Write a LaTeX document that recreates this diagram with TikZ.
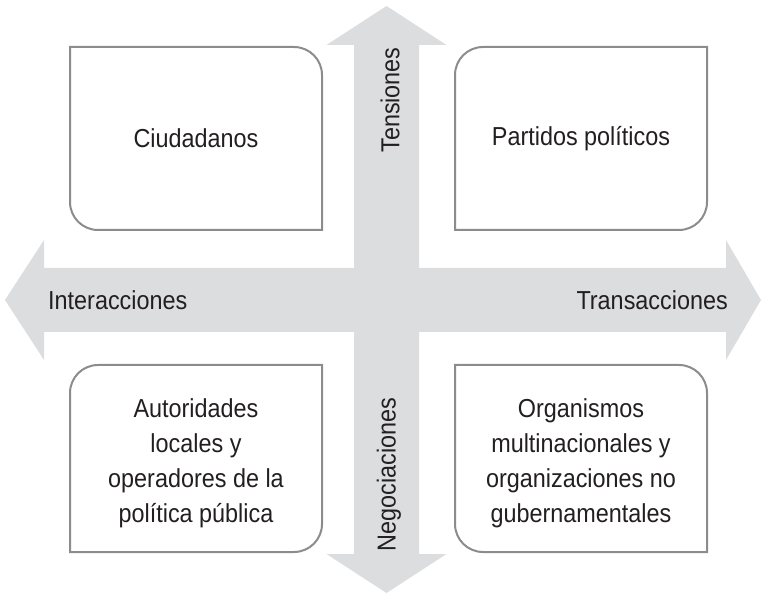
\documentclass[tikz,border=0pt]{standalone}
\usepackage{fontspec}
\setmainfont{Liberation Sans}[FakeStretch=0.9]
\usepackage{tikz}
\usetikzlibrary{positioning}
\definecolor{arrow_gray}{HTML}{DCDDDE}
\definecolor{box_gray}{HTML}{8A8C8E}
\definecolor{text_gray}{HTML}{231F20}
\tikzset{
    bigarrow/.style={fill=arrow_gray, draw=none},
    roundbox/.style={draw=box_gray, line width=2pt, fill=white},
    boxtext/.style={font=\fontsize{26}{35}\selectfont, text=text_gray, align=center},
    axislabel/.style={font=\fontsize{26}{30}\selectfont, text=text_gray, inner sep=0pt}
}

\begin{document}
\begin{tikzpicture}[x=1pt, y=1pt]
        \useasboundingbox (0,0) rectangle (762,594);

        % Arrows
        \fill[bigarrow] (386.5,588) -- (446.5,549) -- (419,549) -- (419,40) -- (446.5,40) -- (386.5,1)
            -- (326.5,40) -- (354,40) -- (354,549) -- (326.5,549) -- cycle;
        \fill[bigarrow] (5,294) -- (44,354) -- (44,326) -- (726,326) -- (726,354) -- (761,294)
            -- (726,234) -- (726,262) -- (44,262) -- (44,234) -- cycle;

        % Boxes
        \draw[roundbox] (70,547) -- (294,547) arc[start angle=90, end angle=0, radius=28pt]
            -- (322,364) -- (98,364) arc[start angle=270, end angle=180, radius=28pt] -- cycle;
        \draw[roundbox] (455,364) -- (455,519) arc[start angle=180, end angle=90, radius=28pt]
            -- (707,547) -- (707,392) arc[start angle=0, end angle=-90, radius=28pt] -- cycle;
        \draw[roundbox] (70,42) -- (70,201) arc[start angle=180, end angle=90, radius=28pt]
            -- (322,229) -- (322,70) arc[start angle=0, end angle=-90, radius=28pt] -- cycle;
        \draw[roundbox] (455,229) -- (679,229) arc[start angle=90, end angle=0, radius=28pt]
            -- (707,42) -- (483,42) arc[start angle=270, end angle=180, radius=28pt] -- cycle;

        \node (Box_ciudadanos) [boxtext] at (196,455.5) {Ciudadanos};
        \node (Box_partidos) [boxtext] at (581,455.5) {Partidos políticos};
        \node (Box_autoridades) [boxtext] at (196,131) {Autoridades\\locales y\\operadores de la\\política pública};
        \node (Box_organismos) [boxtext] at (581,131) {Organismos\\multinacionales y\\organizaciones no\\gubernamentales};

        % Axis labels
        \node (Label_interacciones) [axislabel, anchor=west] at (48,294) {Interacciones};
        \node (Label_transacciones) [axislabel, anchor=east] at (728,294) {Transacciones};
        \node (Label_tensiones) [axislabel, rotate=90] at (390,494) {Tensiones};
        \node (Label_negociaciones) [axislabel, rotate=90] at (389,119.5) {Negociaciones};

    \end{tikzpicture}
\end{document}
